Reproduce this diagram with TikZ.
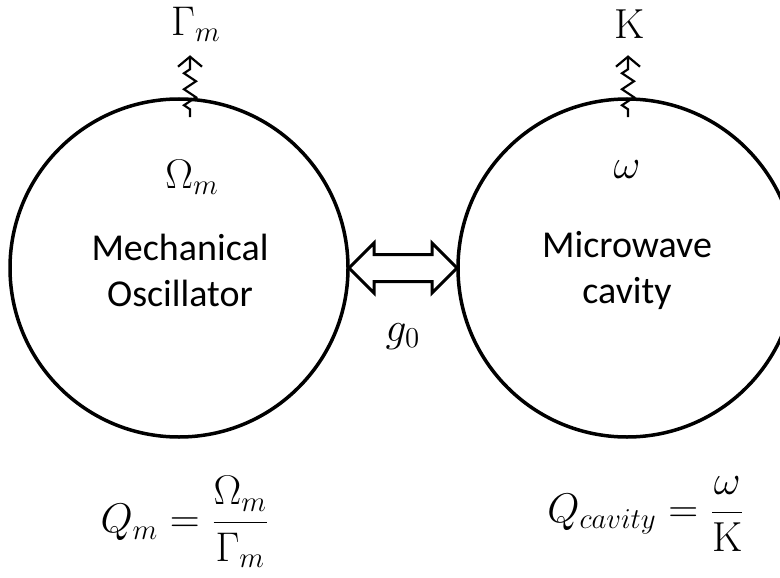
\documentclass[tikz,border=0pt]{standalone}
\usepackage{fontspec}
\setsansfont{Carlito}
\usetikzlibrary{arrows.meta,positioning,calc,shapes.arrows,decorations.pathmorphing}

\begin{document}
\begin{tikzpicture}[
    x=0.5pt, y=-0.5pt,
    modebox/.style={
        draw, circle, line width=1.75pt,
        minimum size=169pt, inner sep=0pt
    },
    modetext/.style={
        font=\sffamily\fontsize{19}{23}\selectfont,
        align=center, inner sep=0pt
    },
    symlabel/.style={
        font=\fontsize{21}{25}\selectfont, inner sep=0pt
    },
    leakarrow/.style={
        line width=1.1pt,
        -{Straight Barb[length=5pt, width=12pt, line width=1.1pt]},
        decorate,
        decoration={zigzag, segment length=8pt, amplitude=3pt,
                    pre length=4pt, post length=7pt}
    },
    couplearrow/.style={
        draw, double arrow, line width=1.5pt,
        minimum height=54pt, inner xsep=0pt, inner ysep=6pt,
        double arrow head extend=5.75pt
    },
]

\useasboundingbox (0,0) rectangle (780,577);

% ===== Two modes =====
\node[modebox] (mo) at (179,268) {};
\node[modebox] (mc) at (627,268) {};

\node[modetext] (motext) at (180,270) {Mechanical\\Oscillator};
\node[modetext] (mctext) at (627,270) {Microwave\\cavity};

\node[symlabel] (omm) at (192,177) {$\Omega_m$};
\node[symlabel] (omc) at (627,170) {$\omega$};

% ===== Coupling =====
\node[couplearrow] (couple) at ($(mo.east)!0.5!(mc.west)$) {};
\node[symlabel, below=20pt of couple] (g) {$g_0$};

% ===== Losses =====
\node[symlabel] (gm) at (196,24) {$\Gamma_m$};
\node[symlabel] (kap) at (630,24) {$\mathrm{K}$};

\coordinate (mleak) at ($(mo.north)+(11,20)$);
\coordinate (mtip) at ($(mleak)+(0,-62)$);
\coordinate (cleak) at ($(mc.north)+(1,20)$);
\coordinate (ctip) at ($(cleak)+(0,-62)$);

\draw[leakarrow] (mleak) -- (mtip);
\draw[leakarrow] (cleak) -- (ctip);

% ===== Quality factors =====
\node[symlabel] (qm) at (185,522) {$\displaystyle Q_m = \frac{\Omega_m}{\Gamma_m}$};
\node[symlabel] (qc) at (646,514) {$\displaystyle Q_{cavity} = \frac{\omega}{\mathrm{K}}$};

\end{tikzpicture}
\end{document}
